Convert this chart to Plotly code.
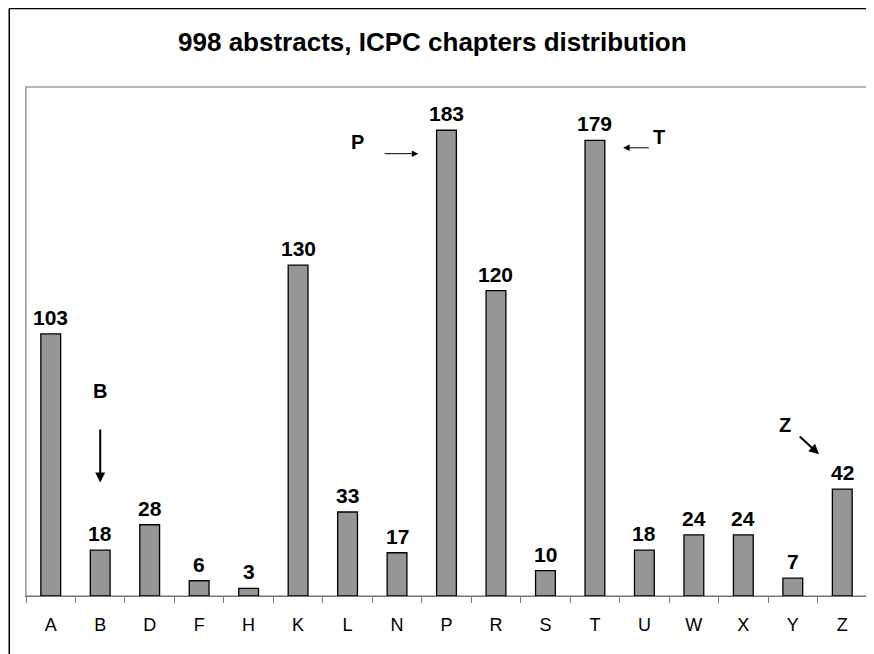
import plotly.graph_objects as go

categories = ["A", "B", "D", "F", "H", "K", "L", "N", "P", "R", "S", "T", "U", "W", "X", "Y", "Z"]
counts = [103, 18, 28, 6, 3, 130, 33, 17, 183, 120, 10, 179, 18, 24, 24, 7, 42]
title_text = "998 abstracts, ICPC chapters distribution"

FONT = "Liberation Sans, Arial, sans-serif"

fig = go.Figure()
fig.add_trace(go.Bar(
    x=categories, y=counts,
    marker=dict(color="#969696", line=dict(color="black", width=1.3)),
    width=0.4,
    hoverinfo="x+y",
))

annotations = []
for c, v in zip(categories, counts):
    annotations.append(dict(
        x=c, y=v, xref="x", yref="y", text=f"<b>{v}</b>", showarrow=False,
        yanchor="bottom", yshift=3, font=dict(family=FONT, size=21, color="black"),
    ))

# callout letters and arrows
def letter(txt, x, y):
    annotations.append(dict(x=x, y=y, xref="x", yref="y", text=f"<b>{txt}</b>",
                            showarrow=False, font=dict(family=FONT, size=20, color="black")))

def arrow(x, y, ax, ay, w):
    annotations.append(dict(x=x, y=y, ax=ax, ay=ay, xref="x", yref="y", axref="x", ayref="y",
                            text="", showarrow=True, arrowhead=2, arrowsize=1 if w > 1 else 1.3,
                            arrowwidth=w, arrowcolor="black", standoff=0, startstandoff=0))

letter("B", 1.0, 80.5)
arrow(1.0, 44.6, 1.0, 66.0, 2)
letter("P", 6.2, 178.5)
arrow(7.43, 173.8, 6.72, 173.8, 1)
letter("T", 12.3, 180.4)
arrow(11.57, 176.1, 12.12, 176.1, 1)
letter("Z", 14.85, 67.2)
arrow(15.53, 55.7, 15.11, 63.2, 2)

shapes = [
    # plot area border
    dict(type="rect", xref="paper", yref="paper", x0=0, x1=1, y0=0, y1=1,
         line=dict(color="#a0a0a0", width=1.5), layer="below"),
    # outer chart border (left and top edges visible)
    dict(type="line", xref="paper", yref="paper", x0=-0.0199, x1=-0.0199, y0=-0.2, y1=1.154,
         line=dict(color="black", width=1.5), layer="below"),
    dict(type="line", xref="paper", yref="paper", x0=-0.0199, x1=1.05, y0=1.154, y1=1.154,
         line=dict(color="black", width=1.5), layer="below"),
]

fig.update_layout(
    width=866, height=646, autosize=False,
    margin=dict(l=18, r=7, t=79, b=58),
    paper_bgcolor="white", plot_bgcolor="white",
    showlegend=False,
    title=dict(text=f"<b>{title_text}</b>", x=0.49, xanchor="center", y=1 - 34 / 646,
               yanchor="middle", yref="container",
               font=dict(family=FONT, size=26, color="black")),
    xaxis=dict(type="category", showline=True, linecolor="#777777", linewidth=1.3,
               ticks="outside", tickson="boundaries", ticklen=6, tickcolor="#777777",
               tickwidth=1, showgrid=False, zeroline=False,
               tickfont=dict(family=FONT, size=18, color="black"), ticklabelstandoff=12),
    yaxis=dict(range=[0, 200], showline=True, linecolor="#a0a0a0", linewidth=1.3,
               showticklabels=False, ticks="", showgrid=False, zeroline=False),
    annotations=annotations,
    shapes=shapes,
    bargap=0.6,
)

fig.write_html("out.html")
